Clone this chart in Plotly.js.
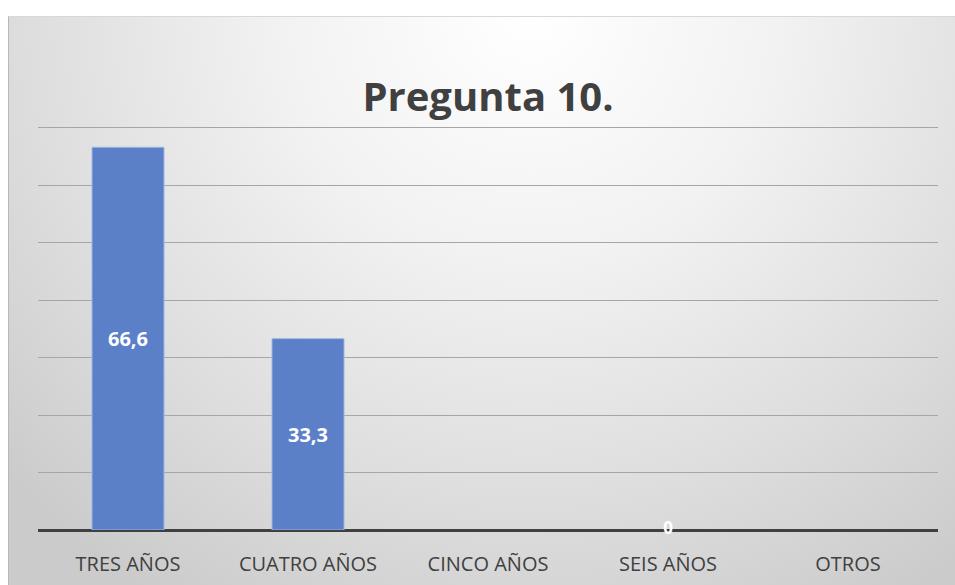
<!DOCTYPE html>
<html>
<head>
<meta charset="utf-8">
<script src="https://cdn.plot.ly/plotly-3.0.1.min.js"></script>
<style>
  html, body { margin: 0; padding: 0; background: #ffffff; }
  #wrap { position: absolute; left: 0; top: 0; width: 955px; height: 585px; background: #ffffff; }
  #bg { position: absolute; left: 8px; top: 16px; width: 947px; height: 569px;
        background: radial-gradient(ellipse 75% 120% at 55% 0%, #ffffff 0%, #f2f2f2 35%, #dedede 70%, #cbcbcb 100%);
        border-left: 1px solid #b8b8b8; border-top: 1px solid #d8d8d8; box-sizing: border-box; }
  #chart { position: absolute; left: 0; top: 0; width: 955px; height: 585px; }
</style>
</head>
<body>
<div id="wrap">
  <div id="bg"></div>
  <div id="chart"></div>
</div>
<script>
const categories = ["TRES AÑOS", "CUATRO AÑOS", "CINCO AÑOS", "SEIS AÑOS", "OTROS"];
const values = [66.6, 33.3, null, 0, null];
const labels = ["66,6", "33,3", "", "0", ""];

const zeroX = [], zeroY = [], zeroT = [];
values.forEach((v, i) => { if (v === 0) { zeroX.push(categories[i]); zeroY.push(v); zeroT.push(labels[i]); } });
const outline = values.map(v => (v ? 1 : 0));

const traces = [
  {
    type: "bar",
    x: categories,
    y: values,
    text: labels,
    textposition: "inside",
    insidetextanchor: "middle",
    textfont: { family: "Open Sans, sans-serif", size: 20, color: "#ffffff", weight: "bold" },
    marker: { color: "#5b80c8", line: { color: "#9fb8e6", width: outline } },
    hoverinfo: "skip",
    cliponaxis: false
  },
  {
    type: "scatter",
    mode: "text",
    x: zeroX,
    y: zeroY,
    text: zeroT,
    textposition: "middle center",
    textfont: { family: "Open Sans, sans-serif", size: 17, color: "#ffffff", weight: "bold" },
    hoverinfo: "skip",
    cliponaxis: false,
    showlegend: false
  }
];

const layout = {
  width: 955,
  height: 585,
  paper_bgcolor: "rgba(0,0,0,0)",
  plot_bgcolor: "rgba(0,0,0,0)",
  showlegend: false,
  margin: { l: 38, r: 17, t: 126, b: 55 },
  bargap: 0.6,
  title: {
    text: "<b>Pregunta 10.</b>",
    x: 0.511, xanchor: "center",
    y: 0.835, yanchor: "middle",
    font: { family: "Open Sans, sans-serif", size: 40, color: "#404040" }
  },
  xaxis: {
    type: "category",
    showgrid: false,
    showline: false,
    zeroline: false,
    ticks: "",
    tickfont: { family: "Open Sans, sans-serif", size: 20, color: "#404040" },
    ticklabelstandoff: 20
  },
  yaxis: {
    range: [0, 70.3],
    tickvals: [10, 20, 30, 40, 50, 60, 70],
    showticklabels: false,
    showgrid: true,
    gridcolor: "#a6a6a6",
    gridwidth: 1,
    zeroline: true,
    zerolinecolor: "#404040",
    zerolinewidth: 3,
    showline: false,
    fixedrange: true
  }
};

Plotly.newPlot("chart", traces, layout, { displayModeBar: false, staticPlot: true });
</script>
</body>
</html>
